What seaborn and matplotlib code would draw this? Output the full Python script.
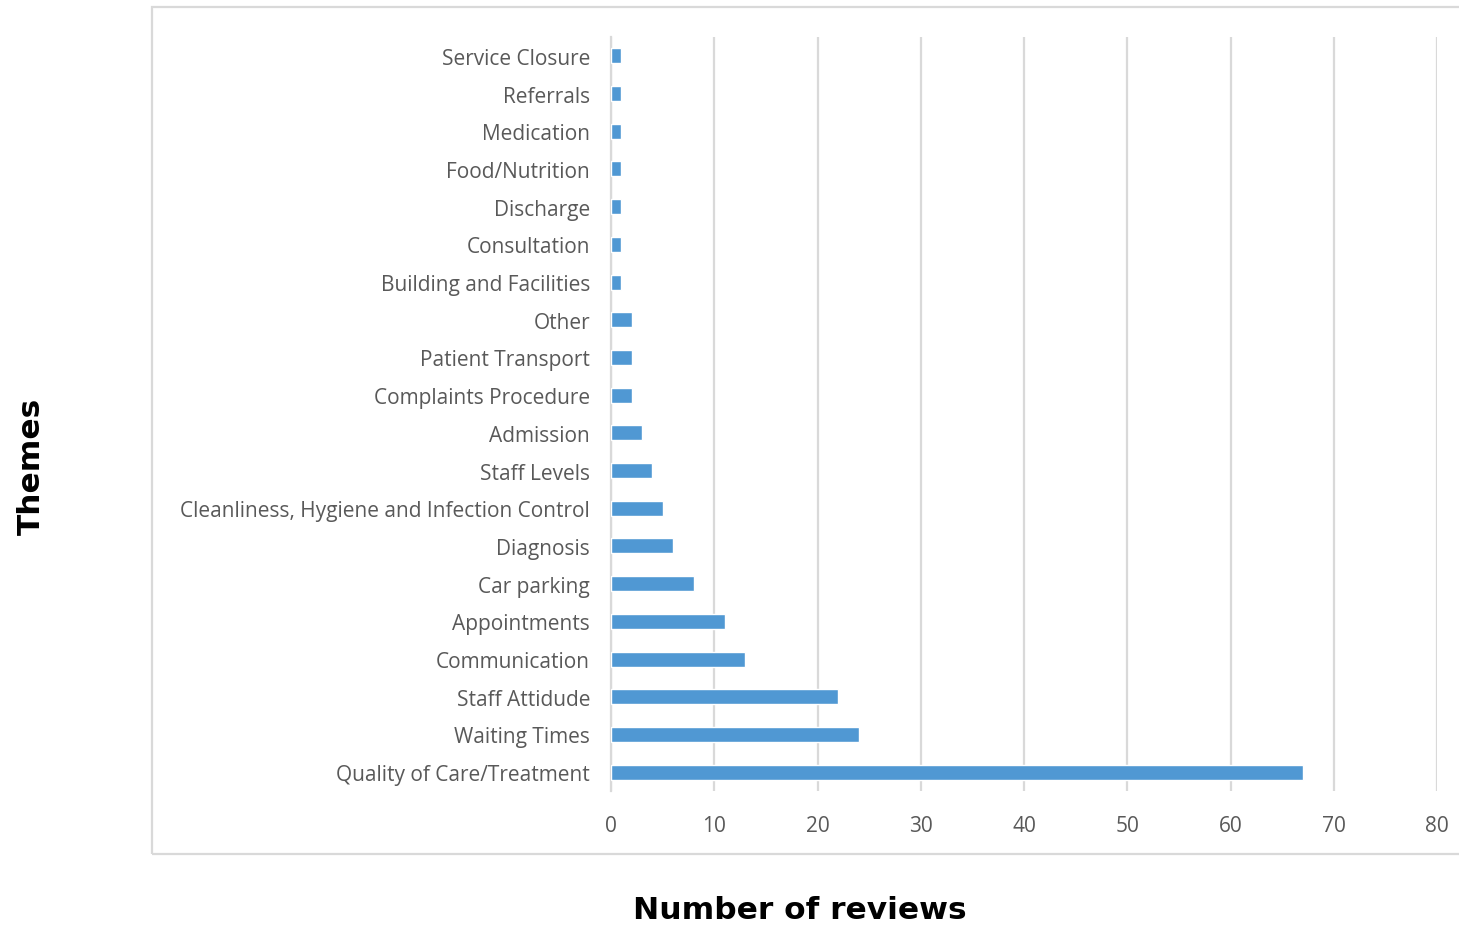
import matplotlib
matplotlib.use("Agg")
import matplotlib.pyplot as plt
from matplotlib.patches import Rectangle
import seaborn as sns
import pandas as pd

# Review themes, listed from top to bottom of the chart
themes = [
    "Service Closure",
    "Referrals",
    "Medication",
    "Food/Nutrition",
    "Discharge",
    "Consultation",
    "Building and Facilities",
    "Other",
    "Patient Transport",
    "Complaints Procedure",
    "Admission",
    "Staff Levels",
    "Cleanliness, Hygiene and Infection Control",
    "Diagnosis",
    "Car parking",
    "Appointments",
    "Communication",
    "Staff Attidude",
    "Waiting Times",
    "Quality of Care/Treatment",
]
review_counts = [1, 1, 1, 1, 1, 1, 1, 2, 2, 2, 3, 4, 5, 6, 8, 11, 13, 22, 24, 67]
x_ticks = [0, 10, 20, 30, 40, 50, 60, 70, 80]

df = pd.DataFrame({"theme": themes, "reviews": review_counts})

sns.set_theme(style="white")
plt.rcParams["font.family"] = ["Open Sans", "DejaVu Sans"]

W, H = 1459, 928
fig = plt.figure(figsize=(W / 100, H / 100), dpi=100)
ax = fig.add_axes([611 / W, 1 - 792 / H, (1437 - 611) / W, (792 - 38) / H])

bar_color = "#5098D3"
sns.barplot(data=df, x="reviews", y="theme", orient="h", color=bar_color,
            width=0.4, saturation=1, ax=ax, zorder=3)

grid_color = "#D9D9D9"
ax.set_xlim(0, 80)
ax.set_ylim(len(themes) - 0.5, -0.5)
ax.set_xticks(x_ticks)
ax.set_xticklabels([str(t) for t in x_ticks])
ax.xaxis.grid(True, color=grid_color, linewidth=1.6, zorder=0)
ax.yaxis.grid(False)
for side in ["top", "right", "bottom"]:
    ax.spines[side].set_visible(False)
ax.spines["left"].set_color(grid_color)
ax.spines["left"].set_linewidth(1.6)
ax.spines["left"].set_zorder(1)

label_color = "#595959"
ax.tick_params(axis="y", length=0, pad=15, labelsize=15, labelcolor=label_color)
ax.tick_params(axis="x", length=0, pad=17, labelsize=15, labelcolor=label_color)
ax.set_xlabel("")
ax.set_ylabel("")

# Chart-area frame
fig.patches.append(Rectangle((152 / W, 1 - 855 / H), (W + 10 - 152) / W, (855 - 8) / H,
                             transform=fig.transFigure, fill=False,
                             edgecolor=grid_color, linewidth=1.6, zorder=0))

fig.text(800 / W, 1 - 911 / H, "Number of reviews", ha="center", va="center",
         fontsize=22.5, fontweight="bold", color="black", family=["DejaVu Sans"])
fig.text(31 / W, 1 - 466 / H, "Themes", ha="center", va="center", rotation=90,
         fontsize=22.5, fontweight="bold", color="black", family=["DejaVu Sans"])

fig.savefig("out.png", dpi=100)
